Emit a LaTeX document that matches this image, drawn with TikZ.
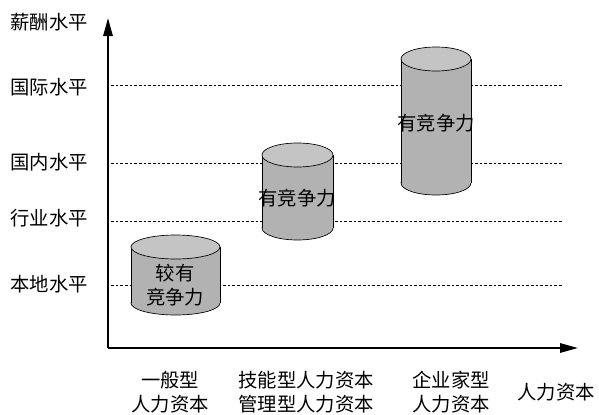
\documentclass[tikz,border=0pt]{standalone}
\usepackage{fontspec}
\setmainfont{Noto Sans CJK SC}
\usetikzlibrary{arrows.meta}
\definecolor{cylbody}{HTML}{B2B2B2}
\definecolor{cyltop}{HTML}{C4C4C4}
\tikzset{
  axisline/.style={line width=1.5pt,-{Triangle[length=13.5pt,width=7pt]}},
  levelline/.style={line width=0.6pt,dash pattern=on 2pt off 1.5pt},
  lbl/.style={font=\fontsize{14.5pt}{18pt}\selectfont,inner sep=0pt,align=center},
}
\newcommand{\cylfig}[5]{% name, left, right, topy, boty
  \fill[cylbody] (#2,#4) rectangle (#3,#5);
  \filldraw[cylbody,draw=black,line width=0.5pt] ({(#2+#3)/2},#5) ellipse ({(#3-#2)/2} and 12);
  \fill[cylbody] (#2,#4) rectangle (#3,#5);
  \draw[line width=0.5pt] (#2,#4) -- (#2,#5) (#3,#4) -- (#3,#5);
  \filldraw[cyltop,draw=black,line width=0.5pt] ({(#2+#3)/2},#4) ellipse ({(#3-#2)/2} and 12);
  \coordinate (#1) at ({(#2+#3)/2},{(#4+#5)/2});
}
\begin{document}
\begin{tikzpicture}[x=0.75pt,y=-0.75pt]
\useasboundingbox (0,0) rectangle (599,414);
% level lines
\foreach \n/\y in {gj/85,gn/163,hy/221,bd/285}{
  \coordinate (\n L) at (111,\y);
  \coordinate (\n R) at (562,\y);
  \draw[levelline] (\n L) -- (\n R);
}
% axes
\coordinate (O) at (108,348);
\coordinate (ytip) at (108,18);
\coordinate (xtip) at (578,348);
\draw[axisline] (O) -- (ytip);
\draw[axisline] (O) -- (xtip);
% cylinders
\cylfig{c1}{131}{220}{247}{303}
\cylfig{c2}{262}{333}{155}{228}
\cylfig{c3}{401}{471}{59}{183}
\node[lbl] (t1) at (175,285) {较有\\竞争力};
\node[lbl] (t2) at (297,198) {有竞争力};
\node[lbl] (t3) at (436,123) {有竞争力};
% y labels
\node[lbl] (ly) at (49,22) {薪酬水平};
\node[lbl] (l1) at (49,87) {国际水平};
\node[lbl] (l2) at (49,162) {国内水平};
\node[lbl] (l3) at (49,218) {行业水平};
\node[lbl] (l4) at (49,284) {本地水平};
% x labels
\node[lbl] (x1) at (170,392) {一般型\\人力资本};
\node[lbl] (x2) at (306,392) {技能型人力资本\\管理型人力资本};
\node[lbl] (x3) at (451,392) {企业家型\\人力资本};
\node[lbl] (lx) at (556,392) {人力资本};
\end{tikzpicture}
\end{document}
